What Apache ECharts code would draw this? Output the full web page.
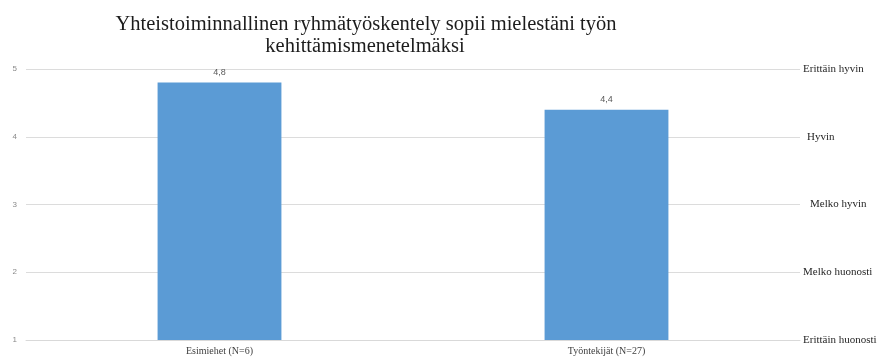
<!DOCTYPE html>
<html><head><meta charset="utf-8">
<script src="https://cdn.jsdelivr.net/npm/echarts@6/dist/echarts.min.js"></script>
<style>html,body{margin:0;padding:0;background:#fff}#c{width:880px;height:360px}</style>
</head><body><div id="c"></div>
<script>
const categories = ["Esimiehet (N=6)", "Työntekijät (N=27)"];
const values = [4.8, 4.4];
const leftTicks = [1, 2, 3, 4, 5];
const rightLabels = {1: "Erittäin huonosti", 2: "Melko huonosti", 3: "Melko hyvin", 4: "Hyvin", 5: "Erittäin hyvin"};
const titleLine1 = "Yhteistoiminnallinen ryhmätyöskentely sopii mielestäni työn";
const titleLine2 = "kehittämismenetelmäksi";

const rightIndent = {1: 'a', 2: 'a', 3: 'c', 4: 'b', 5: 'a'};
const chart = echarts.init(document.getElementById('c'), null, {renderer: 'canvas'});
const serif = 'Liberation Serif';
chart.setOption({
  animation: false,
  backgroundColor: '#fff',
  title: [
    {text: titleLine1, left: 361, top: 9, textAlign: 'center',
     textStyle: {fontFamily: serif, fontSize: 20.5, fontWeight: 'normal', color: '#1c1c1c'}},
    {text: titleLine2, left: 360, top: 31, textAlign: 'center',
     textStyle: {fontFamily: serif, fontSize: 20.5, fontWeight: 'normal', color: '#1c1c1c'}}
  ],
  grid: {left: 26, right: 80, top: 69, bottom: 20, containLabel: false},
  xAxis: {
    type: 'category', data: categories,
    axisLine: {lineStyle: {color: '#d9d9d9'}},
    axisTick: {show: false},
    axisLabel: {fontFamily: serif, fontSize: 10, color: '#404040', margin: 6}
  },
  yAxis: [
    {type: 'value', min: 1, max: 5, interval: 1,
     axisLine: {show: false}, axisTick: {show: false},
     axisLabel: {fontFamily: 'Liberation Sans', fontSize: 8, color: '#8a8a8a', margin: 9},
     splitLine: {lineStyle: {color: '#dcdcdc'}}},
    {type: 'value', min: 1, max: 5, interval: 1, position: 'right',
     axisLine: {show: false}, axisTick: {show: false}, splitLine: {show: false},
     axisLabel: {fontFamily: serif, fontSize: 11, color: '#262626', margin: 3, align: 'left',
       formatter: v => rightLabels[v] ? '{' + rightIndent[v] + '|' + rightLabels[v] + '}' : '',
       rich: {
         a: {fontFamily: serif, fontSize: 11, color: '#262626', padding: [0, 0, 0, 0]},
         b: {fontFamily: serif, fontSize: 11, color: '#262626', padding: [0, 0, 0, 4]},
         c: {fontFamily: serif, fontSize: 11, color: '#262626', padding: [0, 0, 0, 7]}
       }}}
  ],
  series: [{
    type: 'bar', data: values, barWidth: '32%', yAxisIndex: 0,
    itemStyle: {color: '#5b9bd5'},
    label: {show: true, position: 'top', distance: 6, fontFamily: 'Liberation Sans', fontSize: 9, color: '#595959',
      formatter: p => String(p.value).replace('.', ',')}
  }]
});
</script></body></html>
